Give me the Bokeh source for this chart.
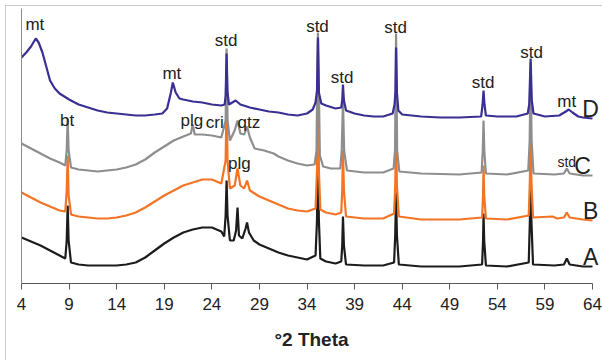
from bokeh.plotting import figure
from bokeh.models import Range1d, FixedTicker
from bokeh.core.properties import value
from bokeh.embed import file_html
from bokeh.resources import INLINE

# ---- data (2theta in degrees, offset intensity in arbitrary units) ----
two_theta_A = [4, 5, 6, 7, 8, 8.6, 8.75, 8.85, 8.95, 9.2, 10, 11, 12, 13, 14, 15, 16, 17, 18, 19, 20, 21, 22, 23, 24, 25, 25.3,
               25.45, 25.55, 25.65, 25.9, 26.3, 26.55, 26.7, 26.85, 27.2, 27.55, 27.7, 27.9, 28.4, 29, 30, 31, 32, 33, 34,
               34.9, 35.05, 35.15, 35.25, 35.4, 36, 37, 37.6, 37.7, 37.78, 37.88, 38.1, 40, 42, 43.15, 43.27, 43.36, 43.45,
               43.65, 46, 50, 52.4, 52.5, 52.55, 52.62, 52.8, 55, 57.3, 57.42, 57.5, 57.58, 57.75, 60, 61, 61.3, 61.6, 63, 64]
intensity_A = [46, 42, 38, 33, 28, 25, 43, 78, 43, 21, 19, 18, 18, 18, 18, 19, 21, 26, 33, 40, 46, 51, 54, 56, 56, 52, 47,
               68, 103, 68, 43, 43, 53, 76, 48, 45, 55, 61, 51, 43, 39, 35, 31, 28, 26, 24,
               28, 63, 133, 63, 25, 22, 20, 22, 38, 67, 38, 19, 18, 18, 21, 48, 91, 48,
               19, 17, 17, 19, 43, 70, 43, 18, 17, 21, 63, 123, 63, 19, 18, 19, 25, 19, 17, 17]

two_theta_B = [4, 5, 6, 7, 8, 8.6, 8.75, 8.85, 8.95, 9.2, 10, 11, 12, 13, 14, 15, 16, 17, 18, 19, 20, 21, 22, 23, 24, 25,
               25.45, 25.55, 25.65, 25.9, 26.4, 26.7, 27.0, 27.4, 27.7, 28.0, 29, 30, 31, 32, 33, 34,
               34.9, 35.05, 35.15, 35.25, 35.4, 36, 37, 37.6, 37.7, 37.78, 37.88, 38.1, 40, 42, 43.15, 43.27, 43.36, 43.45,
               43.65, 46, 50, 52.4, 52.5, 52.55, 52.62, 52.8, 55, 57.3, 57.42, 57.5, 57.58, 57.75, 59.8, 60.3, 61, 61.3,
               61.6, 63, 64]
intensity_B = [91, 86, 81, 77, 73, 72, 93, 128, 88, 69, 67, 66, 65, 65, 66, 68, 71, 76, 82, 88, 93, 98, 101, 104, 104, 100,
               123, 183, 123, 95, 98, 115, 98, 95, 103, 93, 87, 83, 79, 75, 73, 72,
               75, 113, 188, 113, 74, 71, 69, 71, 93, 133, 93, 67, 65, 65, 70, 98, 148, 98,
               67, 64, 64, 66, 88, 118, 88, 65, 64, 68, 103, 163, 103, 66, 67, 65, 66, 71,
               66, 64, 63]

two_theta_C = [4, 5, 6, 7, 8, 8.6, 8.75, 8.85, 8.95, 9.2, 10, 11, 12, 13, 14, 15, 16, 17, 18, 19, 20, 21, 21.8, 22.0, 22.2,
               23, 24, 25, 25.45, 25.55, 25.65, 25.9, 26.4, 26.7, 27.0, 27.4, 27.7, 28.0, 28.5, 29.5, 30.5, 31, 32, 33, 34,
               34.8, 35.0, 35.1, 35.15, 35.2, 35.35, 35.7, 36.5, 37.5, 37.65, 37.78, 37.9, 38.2, 40, 42, 43.1, 43.25, 43.36,
               43.47, 43.7, 46, 50, 52.35, 52.47, 52.55, 52.63, 52.8, 55, 57.25, 57.4, 57.5, 57.6, 57.8, 60, 61, 61.3, 61.6,
               63, 64]
intensity_C = [140, 135, 130, 125, 121, 118, 133, 165, 133, 116, 114, 113, 112, 113, 114, 116, 119, 124, 131, 137, 143, 147,
               150, 159, 149, 149, 148, 146, 163, 235, 163, 143, 153, 163, 150, 149, 157, 146, 135, 133, 130, 127, 123, 120,
               118, 119, 133, 223, 251, 223, 128, 117, 115, 115, 133, 183, 133, 113, 111, 111, 115, 133, 250,
               133, 112, 110, 109, 111, 133, 163, 133, 110, 109, 113, 143, 221, 143, 110, 109, 110, 115, 110,
               108, 108]

two_theta_D = [4, 4.5, 5, 5.5, 5.8, 6.2, 6.6, 7, 7.5, 8, 9, 10, 11, 12, 13, 14, 15, 16, 17, 18, 18.8, 19.3, 19.7, 19.9,
               20.2, 20.6, 21, 22, 23, 24, 25, 25.35, 25.45, 25.55, 25.65, 25.8, 26.5, 27, 28, 29, 30, 31, 32, 33, 34,
               34.6, 34.9, 35.05, 35.15, 35.25, 35.5, 36, 37, 37.6, 37.7, 37.78, 37.88, 38.1, 39, 40, 41, 42, 43.0, 43.2,
               43.3, 43.36, 43.45, 43.6, 44, 46, 48, 50, 52.3, 52.45, 52.55, 52.65, 52.8, 54, 56, 57.2, 57.35, 57.5,
               57.62, 57.8, 59, 60.5, 61.2, 61.5, 61.9, 62.5, 63, 64]
intensity_D = [226, 231, 237, 245, 241, 231, 217, 203, 195, 190, 184, 179, 176, 173, 171, 170, 169, 168, 168, 169, 170,
               175, 191, 201, 191, 185, 184, 182, 181, 179, 178, 179, 188, 230, 191, 179, 183, 179, 176, 174, 172, 171,
               169, 168, 170, 174, 181, 193, 246, 191, 180, 178, 175, 176, 183, 199, 183, 173, 170, 168, 167, 167, 170,
               179, 193, 236, 191, 173, 169, 167, 166, 166, 167, 179, 193, 179, 168, 167, 167, 170, 179, 225, 183, 170,
               167, 168, 172, 174, 171, 167, 166, 165]

x_ticks = [4, 9, 14, 19, 24, 29, 34, 39, 44, 49, 54, 59, 64]

# peak annotations
peak_labels = ["mt", "mt", "bt", "plg", "cri", "qtz", "plg", "std", "std", "std", "std", "std", "std", "mt"]
peak_label_x = [5.4, 19.8, 8.8, 21.9, 24.3, 27.9, 26.9, 25.5, 35.1, 37.7, 43.3, 52.5, 57.6, 61.3]
peak_label_y = [259, 210, 163, 163, 161, 161, 120, 243, 257, 206, 256, 201, 231, 182]
series_names = ["D", "C", "B", "A"]
series_label_x = [63.8, 62.95, 63.8, 63.8]
series_label_y = [175, 118, 73, 27]

colors = {"A": "#1c1c1c", "B": "#f27424", "C": "#8e8e8e", "D": "#3a2f92"}

FONT = "Liberation Sans"

# frame runs to the right edge of the page so that the series letters are not clipped;
# the axis itself is bounded to 4..64
p = figure(width=602, height=360, output_backend="svg", toolbar_location=None,
           x_range=Range1d(4, 4 + 60 * 580 / 571), y_range=Range1d(0, 275),
           min_border_left=21, min_border_right=1, min_border_top=8, min_border_bottom=77)
p.outline_line_color = None
p.xgrid.visible = False
p.ygrid.visible = False
p.background_fill_color = "white"
p.border_fill_color = None
# light outer frame of the original chart (left and top edges)
p.styles = {"background": "linear-gradient(#cccccc, #cccccc) 5px 5px / 1px 100% no-repeat, "
                          "linear-gradient(#cccccc, #cccccc) 5px 5px / 100% 1px no-repeat, white"}

# x axis
xa = p.xaxis[0]
xa.bounds = (4, 64)
xa.ticker = FixedTicker(ticks=x_ticks)
xa.axis_line_color = "#5a5a5a"
xa.major_tick_line_color = "#5a5a5a"
xa.major_tick_out = 6
xa.major_tick_in = 0
xa.minor_tick_line_color = None
xa.major_label_text_font = FONT
xa.major_label_text_font_size = "17px"
xa.major_label_text_color = "#222222"
xa.major_label_standoff = 8
xa.axis_label = "°2 Theta"
xa.axis_label_text_font = FONT
xa.axis_label_text_font_style = "bold"
xa.axis_label_text_font_size = "19px"
xa.axis_label_text_color = "#222222"
xa.axis_label_standoff = 16

# y axis: plain line only
ya = p.yaxis[0]
ya.ticker = FixedTicker(ticks=[])
ya.axis_line_color = "#8a8a8a"
ya.major_tick_line_color = None
ya.minor_tick_line_color = None
ya.major_label_text_font_size = "0px"
ya.major_tick_out = 0
ya.major_label_standoff = 0

# traces
p.line(two_theta_A, intensity_A, line_color=colors["A"], line_width=2.2)
p.line(two_theta_B, intensity_B, line_color=colors["B"], line_width=2.2)
p.line(two_theta_C, intensity_C, line_color=colors["C"], line_width=2.2)
p.line(two_theta_D, intensity_D, line_color=colors["D"], line_width=2.2)

p.text(x=peak_label_x, y=peak_label_y, text=peak_labels, text_font=value(FONT), text_font_size="17px",
       text_color="#222222", text_align="center", text_baseline="middle")
p.text(x=[61.3], y=[122], text=["std"], text_font=value(FONT), text_font_size="14px",
       text_color="#222222", text_align="center", text_baseline="middle")
p.text(x=series_label_x, y=series_label_y, text=series_names, text_font=value(FONT), text_font_size="23px",
       text_color="#222222", text_align="center", text_baseline="middle")

open("out.html", "w").write(file_html(p, INLINE))
